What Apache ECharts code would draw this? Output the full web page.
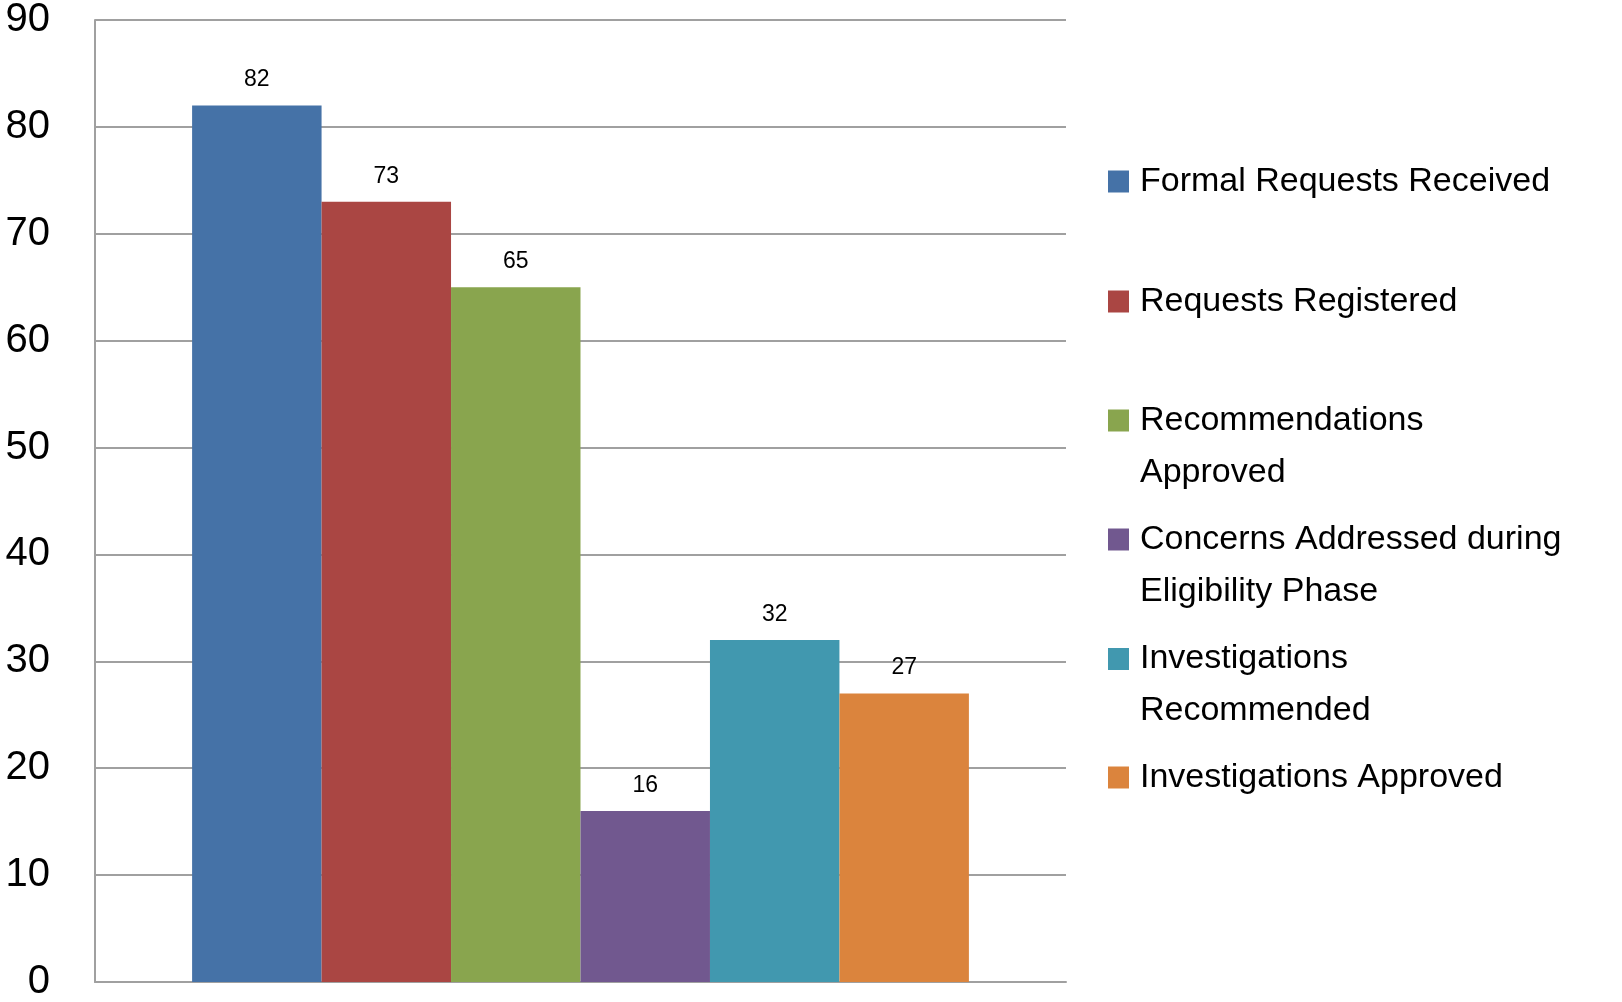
<!DOCTYPE html>
<html>
<head>
<meta charset="utf-8">
<script src="https://cdn.jsdelivr.net/npm/echarts@6/dist/echarts.min.js"></script>
<style>
html,body{margin:0;padding:0;background:#fff;}
#chart{width:1622px;height:1002px;}
</style>
</head>
<body>
<div id="chart"></div>
<script>
// ---- data ----
const categories = [''];
const seriesNames = [
  'Formal Requests Received',
  'Requests Registered',
  'Recommendations Approved',
  'Concerns Addressed during Eligibility Phase',
  'Investigations Recommended',
  'Investigations Approved'
];
const seriesValues = [82, 73, 65, 16, 32, 27];
const legendLabels = [
  'Formal Requests Received',
  'Requests Registered',
  'Recommendations\nApproved',
  'Concerns Addressed during\nEligibility Phase',
  'Investigations\nRecommended',
  'Investigations Approved'
];
const yTicks = [0, 10, 20, 30, 40, 50, 60, 70, 80, 90];
const colors = ['#4572A7', '#AA4643', '#89A54E', '#71588F', '#4198AF', '#DB843D'];

// ---- layout ----
const FONT = 'Liberation Sans';
const LH = 52;
const legendCenters = [181.5, 301.5, 420.5, 539.5, 659, 777.5];

const chart = echarts.init(document.getElementById('chart'), null, {renderer: 'canvas'});

const series = seriesNames.map((name, i) => ({
  name: name,
  type: 'bar',
  data: [seriesValues[i]],
  itemStyle: {color: colors[i]},
  barGap: '0%',
  barCategoryGap: '20%',
  label: {
    show: true,
    position: 'top',
    distance: 14,
    color: '#000',
    fontSize: 23,
    fontFamily: FONT
  }
}));

const legends = seriesNames.map((name, i) => {
  const lines = legendLabels[i].split('\n').length;
  // pad with leading empty lines so the first text line sits level with the marker
  const text = lines > 1 ? '\n'.repeat(lines - 1) + legendLabels[i] : legendLabels[i];
  const totalLines = lines > 1 ? 2 * lines - 1 : 1;
  const blockH = LH * totalLines;
  return {
    data: [name],
    orient: 'vertical',
    left: 1108,
    top: legendCenters[i] - blockH / 2,
    padding: 0,
    itemWidth: 21,
    itemHeight: 22,
    icon: 'rect',
    selectedMode: false,
    formatter: () => text,
    textStyle: {
      fontSize: 34,
      fontFamily: FONT,
      color: '#000',
      lineHeight: LH,
      padding: [0, 0, 0, 6]
    }
  };
});

chart.setOption({
  animation: false,
  backgroundColor: '#fff',
  color: colors,
  grid: {left: 95, top: 18, right: 556, bottom: 15, containLabel: false},
  legend: legends,
  xAxis: {
    type: 'category',
    data: categories,
    axisLine: {show: true, lineStyle: {color: '#a0a0a0', width: 2}},
    axisTick: {show: false},
    axisLabel: {show: false}
  },
  yAxis: {
    type: 'value',
    min: yTicks[0],
    max: yTicks[yTicks.length - 1],
    interval: yTicks[1] - yTicks[0],
    axisLine: {show: true, lineStyle: {color: '#a0a0a0', width: 2}},
    axisTick: {show: false},
    axisLabel: {
      fontSize: 40,
      fontFamily: FONT,
      color: '#000',
      margin: 45
    },
    splitLine: {show: true, lineStyle: {color: '#a0a0a0', width: 2}}
  },
  series: series
});
</script>
</body>
</html>
